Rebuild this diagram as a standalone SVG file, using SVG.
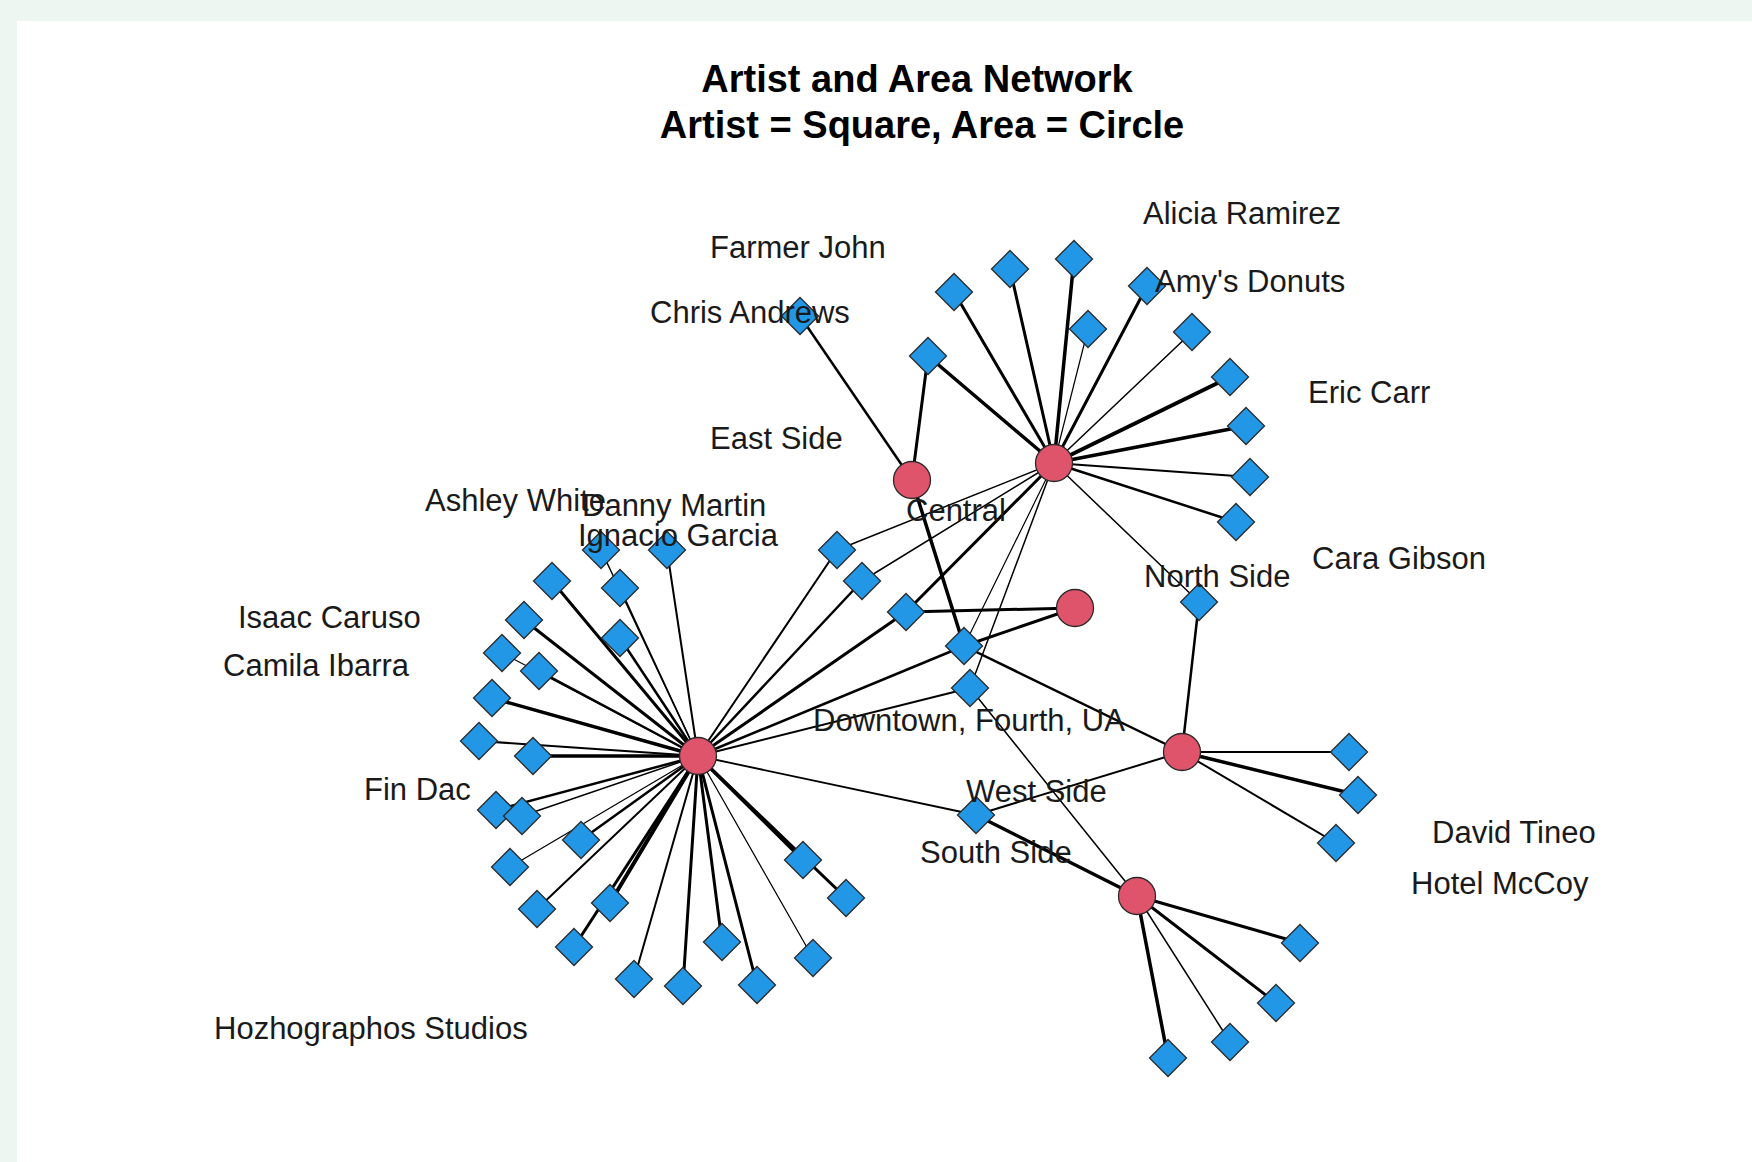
<svg xmlns="http://www.w3.org/2000/svg" xmlns:xlink="http://www.w3.org/1999/xlink" width="1752" height="1162" viewBox="0 0 1752 1162">
<style>
.bg{fill:#edf6f1}
.panel{fill:#ffffff}
.title{font-family:"Liberation Sans",Arial,sans-serif;font-weight:bold;font-size:38px;fill:#000;text-anchor:middle}
.lbl{font-family:"Liberation Sans",Arial,sans-serif;font-size:31px;fill:#1a1a1a}
.e{stroke:#000;fill:none;stroke-linecap:round}
.area{fill:#DF536B;stroke:#2a2a2a;stroke-width:1.3}
.artist{fill:#2297E6;stroke:#2a2a2a;stroke-width:1.3}
</style>
<defs>
<path id="dia" d="M0,-18.5 L18.5,0 L0,18.5 L-18.5,0 Z"/>
</defs>
<rect class="bg" x="0" y="0" width="1752" height="1162"/>
<rect class="panel" x="17" y="21" width="1735" height="1141"/>
<g id="title">
<text class="title" x="917" y="92">Artist and Area Network</text>
<text class="title" x="922" y="138">Artist = Square, Area = Circle</text>
</g>
<g id="connectors" class="e">
<!-- Central hub -->
<line x1="1054" y1="463" x2="954" y2="292" stroke-width="3"/>
<line x1="1054" y1="463" x2="1010" y2="269" stroke-width="3"/>
<line x1="1054" y1="463" x2="1074" y2="259" stroke-width="3.5"/>
<line x1="1054" y1="463" x2="1088" y2="329" stroke-width="1.2"/>
<line x1="1054" y1="463" x2="1147" y2="286" stroke-width="3"/>
<line x1="1054" y1="463" x2="1192" y2="332" stroke-width="1.5"/>
<line x1="1054" y1="463" x2="1230" y2="377" stroke-width="4"/>
<line x1="1054" y1="463" x2="1246" y2="426" stroke-width="3.5"/>
<line x1="1054" y1="463" x2="1250" y2="477" stroke-width="2.2"/>
<line x1="1054" y1="463" x2="1236" y2="522" stroke-width="2.5"/>
<line x1="1054" y1="463" x2="928" y2="356" stroke-width="3.5"/>
<line x1="1054" y1="463" x2="1199" y2="602" stroke-width="1.5"/>
<line x1="1054" y1="463" x2="837" y2="550" stroke-width="1.5"/>
<line x1="1054" y1="463" x2="862" y2="581" stroke-width="1.5"/>
<line x1="1054" y1="463" x2="906" y2="612" stroke-width="3"/>
<line x1="1054" y1="463" x2="964" y2="646" stroke-width="1.2"/>
<line x1="1054" y1="463" x2="970" y2="688" stroke-width="1.5"/>
<!-- East Side -->
<line x1="912" y1="480" x2="800" y2="316" stroke-width="2.5"/>
<line x1="912" y1="480" x2="928" y2="356" stroke-width="3"/>
<line x1="912" y1="480" x2="964" y2="646" stroke-width="3.5"/>
<!-- small circle -->
<line x1="1075" y1="608" x2="906" y2="612" stroke-width="3"/>
<line x1="1075" y1="608" x2="964" y2="646" stroke-width="3"/>
<!-- North hub -->
<line x1="1182" y1="752" x2="1199" y2="602" stroke-width="2.5"/>
<line x1="1182" y1="752" x2="964" y2="646" stroke-width="2.5"/>
<line x1="1182" y1="752" x2="976" y2="815" stroke-width="2"/>
<line x1="1182" y1="752" x2="1349" y2="752" stroke-width="1.8"/>
<line x1="1182" y1="752" x2="1358" y2="795" stroke-width="3.5"/>
<line x1="1182" y1="752" x2="1336" y2="843" stroke-width="2"/>
<!-- South hub -->
<line x1="1137" y1="896" x2="970" y2="688" stroke-width="1.5"/>
<line x1="1137" y1="896" x2="976" y2="815" stroke-width="3.5"/>
<line x1="1137" y1="896" x2="1300" y2="943" stroke-width="3"/>
<line x1="1137" y1="896" x2="1276" y2="1003" stroke-width="3"/>
<line x1="1137" y1="896" x2="1230" y2="1042" stroke-width="1.5"/>
<line x1="1137" y1="896" x2="1168" y2="1058" stroke-width="3.5"/>
<!-- Left hub -->
<line x1="698" y1="756" x2="837" y2="550" stroke-width="2"/>
<line x1="698" y1="756" x2="862" y2="581" stroke-width="2.5"/>
<line x1="698" y1="756" x2="906" y2="612" stroke-width="3"/>
<line x1="698" y1="756" x2="964" y2="646" stroke-width="2.5"/>
<line x1="698" y1="756" x2="970" y2="688" stroke-width="2"/>
<line x1="698" y1="756" x2="976" y2="815" stroke-width="1.8"/>
<line x1="698" y1="756" x2="601" y2="550" stroke-width="1.5"/>
<line x1="698" y1="756" x2="667" y2="550" stroke-width="2"/>
<line x1="698" y1="756" x2="552" y2="581" stroke-width="3"/>
<line x1="698" y1="756" x2="620" y2="588" stroke-width="1.5"/>
<line x1="698" y1="756" x2="524" y2="620" stroke-width="3"/>
<line x1="698" y1="756" x2="620" y2="638" stroke-width="2.5"/>
<line x1="698" y1="756" x2="502" y2="653" stroke-width="1.2"/>
<line x1="698" y1="756" x2="539" y2="671" stroke-width="2.5"/>
<line x1="698" y1="756" x2="492" y2="698" stroke-width="3.5"/>
<line x1="698" y1="756" x2="479" y2="741" stroke-width="2"/>
<line x1="698" y1="756" x2="533" y2="756" stroke-width="3.5"/>
<line x1="698" y1="756" x2="496" y2="810" stroke-width="2.5"/>
<line x1="698" y1="756" x2="522" y2="816" stroke-width="1.5"/>
<line x1="698" y1="756" x2="581" y2="840" stroke-width="2.5"/>
<line x1="698" y1="756" x2="510" y2="867" stroke-width="1.2"/>
<line x1="698" y1="756" x2="537" y2="909" stroke-width="2"/>
<line x1="698" y1="756" x2="610" y2="903" stroke-width="4"/>
<line x1="698" y1="756" x2="574" y2="947" stroke-width="3"/>
<line x1="698" y1="756" x2="634" y2="979" stroke-width="2"/>
<line x1="698" y1="756" x2="683" y2="986" stroke-width="3"/>
<line x1="698" y1="756" x2="722" y2="942" stroke-width="3"/>
<line x1="698" y1="756" x2="757" y2="985" stroke-width="3"/>
<line x1="698" y1="756" x2="813" y2="958" stroke-width="1.2"/>
<line x1="698" y1="756" x2="803" y2="860" stroke-width="3.5"/>
<line x1="698" y1="756" x2="846" y2="898" stroke-width="3"/>
</g>
<g id="areas">
<g id="area-central"><circle class="area" cx="1054" cy="463" r="18.5"/></g>
<g id="area-east"><circle class="area" cx="912" cy="480" r="18.5"/></g>
<g id="area-small"><circle class="area" cx="1075" cy="608" r="18.5"/></g>
<g id="area-left"><circle class="area" cx="698" cy="756" r="18.5"/></g>
<g id="area-north"><circle class="area" cx="1182" cy="752" r="18.5"/></g>
<g id="area-south"><circle class="area" cx="1137" cy="896" r="18.5"/></g>
</g>
<g id="artists">
<g id="a-t1"><use href="#dia" class="artist" x="954" y="292"/></g>
<g id="a-t2"><use href="#dia" class="artist" x="1010" y="269"/></g>
<g id="a-t3"><use href="#dia" class="artist" x="1074" y="259"/></g>
<g id="a-t4"><use href="#dia" class="artist" x="1088" y="329"/></g>
<g id="a-t5"><use href="#dia" class="artist" x="1147" y="286"/></g>
<g id="a-t6"><use href="#dia" class="artist" x="1192" y="332"/></g>
<g id="a-t7"><use href="#dia" class="artist" x="1230" y="377"/></g>
<g id="a-t8"><use href="#dia" class="artist" x="1246" y="426"/></g>
<g id="a-t9"><use href="#dia" class="artist" x="1250" y="477"/></g>
<g id="a-t10"><use href="#dia" class="artist" x="1236" y="522"/></g>
<g id="a-t11"><use href="#dia" class="artist" x="928" y="356"/></g>
<g id="a-ca"><use href="#dia" class="artist" x="800" y="316"/></g>
<g id="a-ns"><use href="#dia" class="artist" x="1199" y="602"/></g>
<g id="a-m1"><use href="#dia" class="artist" x="837" y="550"/></g>
<g id="a-m2"><use href="#dia" class="artist" x="862" y="581"/></g>
<g id="a-m3"><use href="#dia" class="artist" x="906" y="612"/></g>
<g id="a-m4"><use href="#dia" class="artist" x="964" y="646"/></g>
<g id="a-m5"><use href="#dia" class="artist" x="970" y="688"/></g>
<g id="a-ws"><use href="#dia" class="artist" x="976" y="815"/></g>
<g id="a-n1"><use href="#dia" class="artist" x="1349" y="752"/></g>
<g id="a-n2"><use href="#dia" class="artist" x="1358" y="795"/></g>
<g id="a-n3"><use href="#dia" class="artist" x="1336" y="843"/></g>
<g id="a-s1"><use href="#dia" class="artist" x="1300" y="943"/></g>
<g id="a-s2"><use href="#dia" class="artist" x="1276" y="1003"/></g>
<g id="a-s3"><use href="#dia" class="artist" x="1230" y="1042"/></g>
<g id="a-s4"><use href="#dia" class="artist" x="1168" y="1058"/></g>
<g id="a-l1"><use href="#dia" class="artist" x="601" y="550"/></g>
<g id="a-l2"><use href="#dia" class="artist" x="667" y="550"/></g>
<g id="a-l3"><use href="#dia" class="artist" x="552" y="581"/></g>
<g id="a-l4"><use href="#dia" class="artist" x="620" y="588"/></g>
<g id="a-l5"><use href="#dia" class="artist" x="524" y="620"/></g>
<g id="a-l6"><use href="#dia" class="artist" x="620" y="638"/></g>
<g id="a-l7"><use href="#dia" class="artist" x="502" y="653"/></g>
<g id="a-l8"><use href="#dia" class="artist" x="539" y="671"/></g>
<g id="a-l9"><use href="#dia" class="artist" x="492" y="698"/></g>
<g id="a-l10"><use href="#dia" class="artist" x="479" y="741"/></g>
<g id="a-l11"><use href="#dia" class="artist" x="533" y="756"/></g>
<g id="a-l12"><use href="#dia" class="artist" x="496" y="810"/></g>
<g id="a-l13"><use href="#dia" class="artist" x="522" y="816"/></g>
<g id="a-l14"><use href="#dia" class="artist" x="581" y="840"/></g>
<g id="a-l15"><use href="#dia" class="artist" x="510" y="867"/></g>
<g id="a-l16"><use href="#dia" class="artist" x="537" y="909"/></g>
<g id="a-l17"><use href="#dia" class="artist" x="610" y="903"/></g>
<g id="a-l18"><use href="#dia" class="artist" x="574" y="947"/></g>
<g id="a-l19"><use href="#dia" class="artist" x="634" y="979"/></g>
<g id="a-l20"><use href="#dia" class="artist" x="683" y="986"/></g>
<g id="a-l21"><use href="#dia" class="artist" x="722" y="942"/></g>
<g id="a-l22"><use href="#dia" class="artist" x="757" y="985"/></g>
<g id="a-l23"><use href="#dia" class="artist" x="813" y="958"/></g>
<g id="a-l24"><use href="#dia" class="artist" x="803" y="860"/></g>
<g id="a-l25"><use href="#dia" class="artist" x="846" y="898"/></g>
</g>
<g id="labels" class="lbl">
<text x="710" y="258">Farmer John</text>
<text x="650" y="323">Chris Andrews</text>
<text x="1143" y="224">Alicia Ramirez</text>
<text x="1155" y="292">Amy's Donuts</text>
<text x="1308" y="403">Eric Carr</text>
<text x="710" y="449">East Side</text>
<text x="425" y="511">Ashley White</text>
<text x="582" y="516">Danny Martin</text>
<text x="578" y="546">Ignacio Garcia</text>
<text x="906" y="521">Central</text>
<text x="1312" y="569">Cara Gibson</text>
<text x="1144" y="587">North Side</text>
<text x="238" y="628">Isaac Caruso</text>
<text x="223" y="676">Camila Ibarra</text>
<text x="813" y="731">Downtown, Fourth, UA</text>
<text x="364" y="800">Fin Dac</text>
<text x="966" y="802">West Side</text>
<text x="1432" y="843">David Tineo</text>
<text x="920" y="863">South Side</text>
<text x="1411" y="894">Hotel McCoy</text>
<text x="214" y="1039">Hozhographos Studios</text>
</g>
</svg>
